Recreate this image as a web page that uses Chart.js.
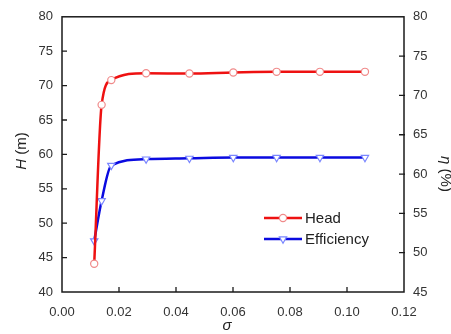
<!DOCTYPE html>
<html>
<head>
<meta charset="utf-8">
<script src="https://cdn.jsdelivr.net/npm/chart.js@4/dist/chart.umd.min.js"></script>
<style>
  html, body { margin: 0; padding: 0; background: #ffffff; }
  #chart { display: block; }
</style>
</head>
<body>
<canvas id="chart" width="451" height="334"></canvas>
<script>
// cavitation number vs head / efficiency
var sigma = [ 0.0113, 0.0139, 0.0173, 0.0295, 0.0447, 0.0601, 0.0753, 0.0905, 0.1063 ];
var head = [ 44.1, 67.2, 70.8, 71.8, 71.75, 71.9, 72.0, 72.0, 72.0 ];
var efficiency = [ 51.5, 56.6, 61.1, 61.9, 62.0, 62.1, 62.1, 62.1, 62.1 ];
var seriesNames = [ "Head", "Efficiency" ];

function points( xs, ys ) {
    return xs.map( function ( x, i ) { return { x: x, y: ys[ i ] }; } );
}

var FONT = "'Liberation Sans', Arial, sans-serif";
Chart.defaults.font.family = FONT;
Chart.defaults.color = "#333333";

// draws "<italic symbol> (unit)" centred on the current origin
function mixedTitle( ctx, sym, rest ) {
    ctx.textAlign = "left";
    ctx.font = "italic 15px " + FONT;
    var w1 = ctx.measureText( sym ).width;
    ctx.font = "15px " + FONT;
    var w2 = ctx.measureText( rest ).width;
    var x0 = -( w1 + w2 ) / 2;
    ctx.font = "italic 15px " + FONT;
    ctx.fillText( sym, x0, 0 );
    ctx.font = "15px " + FONT;
    ctx.fillText( rest, x0 + w1, 0 );
}

// frame, inward tick marks, axis titles and the legend inside the plot
var decorations = {
    id: "decorations",
    afterDraw: function ( chart ) {
        var ctx = chart.ctx;
        var area = chart.chartArea;
        var sx = chart.scales.x, sy = chart.scales.y, sy1 = chart.scales.y1;
        ctx.save();
        ctx.strokeStyle = "#1a1a1a";
        ctx.lineWidth = 1.5;
        ctx.strokeRect( area.left, area.top, area.right - area.left, area.bottom - area.top );

        ctx.lineWidth = 1.3;
        ctx.beginPath();
        sx.ticks.forEach( function ( t ) {
            var px = sx.getPixelForValue( t.value );
            if ( px <= area.left + 1 || px >= area.right - 1 ) return;
            ctx.moveTo( px, area.bottom );
            ctx.lineTo( px, area.bottom - 5 );
        } );
        sy.ticks.forEach( function ( t ) {
            var py = sy.getPixelForValue( t.value );
            if ( py <= area.top + 1 || py >= area.bottom - 1 ) return;
            ctx.moveTo( area.left, py );
            ctx.lineTo( area.left + 5, py );
        } );
        sy1.ticks.forEach( function ( t ) {
            var py = sy1.getPixelForValue( t.value );
            if ( py <= area.top + 1 || py >= area.bottom - 1 ) return;
            ctx.moveTo( area.right + 1, py );
            ctx.lineTo( area.right - 5, py );
        } );
        ctx.stroke();

        // axis titles
        ctx.fillStyle = "#222222";
        ctx.textBaseline = "middle";
        ctx.textAlign = "center";
        ctx.font = "italic 15px " + FONT;
        ctx.fillText( "\u03c3", 227, 326 );

        ctx.save();
        ctx.translate( 22, 151 );
        ctx.rotate( -Math.PI / 2 );
        mixedTitle( ctx, "H", " (m)" );
        ctx.restore();

        ctx.save();
        ctx.translate( 445, 174 );
        ctx.rotate( Math.PI / 2 );
        mixedTitle( ctx, "\u03b7", " (%)" );
        ctx.restore();

        // legend
        ctx.font = "15px " + FONT;
        ctx.textAlign = "left";
        chart.data.datasets.forEach( function ( ds, i ) {
            var ly = 218 + i * 21;
            ctx.strokeStyle = ds.borderColor;
            ctx.lineWidth = ds.borderWidth;
            ctx.beginPath();
            ctx.moveTo( 264, ly );
            ctx.lineTo( 302, ly );
            ctx.stroke();
            ctx.strokeStyle = ds.pointBorderColor;
            ctx.fillStyle = ds.pointBackgroundColor;
            ctx.lineWidth = ds.pointBorderWidth;
            Chart.helpers.drawPoint( ctx, {
                pointStyle: ds.pointStyle,
                radius: ds.pointRadius,
                rotation: ds.pointRotation || 0,
                borderWidth: ds.pointBorderWidth
            }, 283, ly );
            ctx.fillStyle = "#222222";
            ctx.fillText( ds.label, 305, ly + 1 );
        } );
        ctx.restore();
    }
};

new Chart( document.getElementById( "chart" ).getContext( "2d" ), {
    type: "line",
    data: {
        datasets: [ {
            label: seriesNames[ 0 ],
            data: points( sigma, head ),
            yAxisID: "y",
            borderColor: "#ee1111",
            borderWidth: 2.5,
            cubicInterpolationMode: "monotone",
            pointStyle: "circle",
            pointRadius: 3.6,
            pointBorderWidth: 1.2,
            pointBorderColor: "#f08a8a",
            pointBackgroundColor: "#ffffff"
        }, {
            label: seriesNames[ 1 ],
            data: points( sigma, efficiency ),
            yAxisID: "y1",
            borderColor: "#0a0ae0",
            borderWidth: 2.5,
            cubicInterpolationMode: "monotone",
            pointStyle: "triangle",
            pointRotation: 180,
            pointRadius: 4.2,
            pointBorderWidth: 1.2,
            pointBorderColor: "#7a86ff",
            pointBackgroundColor: "#ffffff"
        } ]
    },
    options: {
        responsive: false,
        animation: false,
        layout: { padding: { top: 15, left: 0, right: 0, bottom: 0 } },
        plugins: {
            legend: { display: false },
            tooltip: { enabled: false }
        },
        scales: {
            x: {
                type: "linear",
                min: 0,
                max: 0.12,
                grid: { display: false, drawTicks: false },
                border: { display: false },
                ticks: {
                    stepSize: 0.02,
                    padding: 13,
                    maxRotation: 0,
                    font: { size: 13 },
                    callback: function ( v ) { return v.toFixed( 2 ); }
                },
                afterFit: function ( s ) { s.height = 42; }
            },
            y: {
                position: "left",
                min: 40,
                max: 80,
                grid: { display: false, drawTicks: false },
                border: { display: false },
                ticks: { stepSize: 5, padding: 9, font: { size: 13 } },
                afterFit: function ( s ) { s.width = 62; }
            },
            y1: {
                position: "right",
                min: 45,
                max: 80,
                grid: { display: false, drawTicks: false },
                border: { display: false },
                ticks: { stepSize: 5, padding: 9, font: { size: 13 } },
                afterFit: function ( s ) { s.width = 47; }
            }
        }
    },
    plugins: [ decorations ]
} );
</script>
</body>
</html>
